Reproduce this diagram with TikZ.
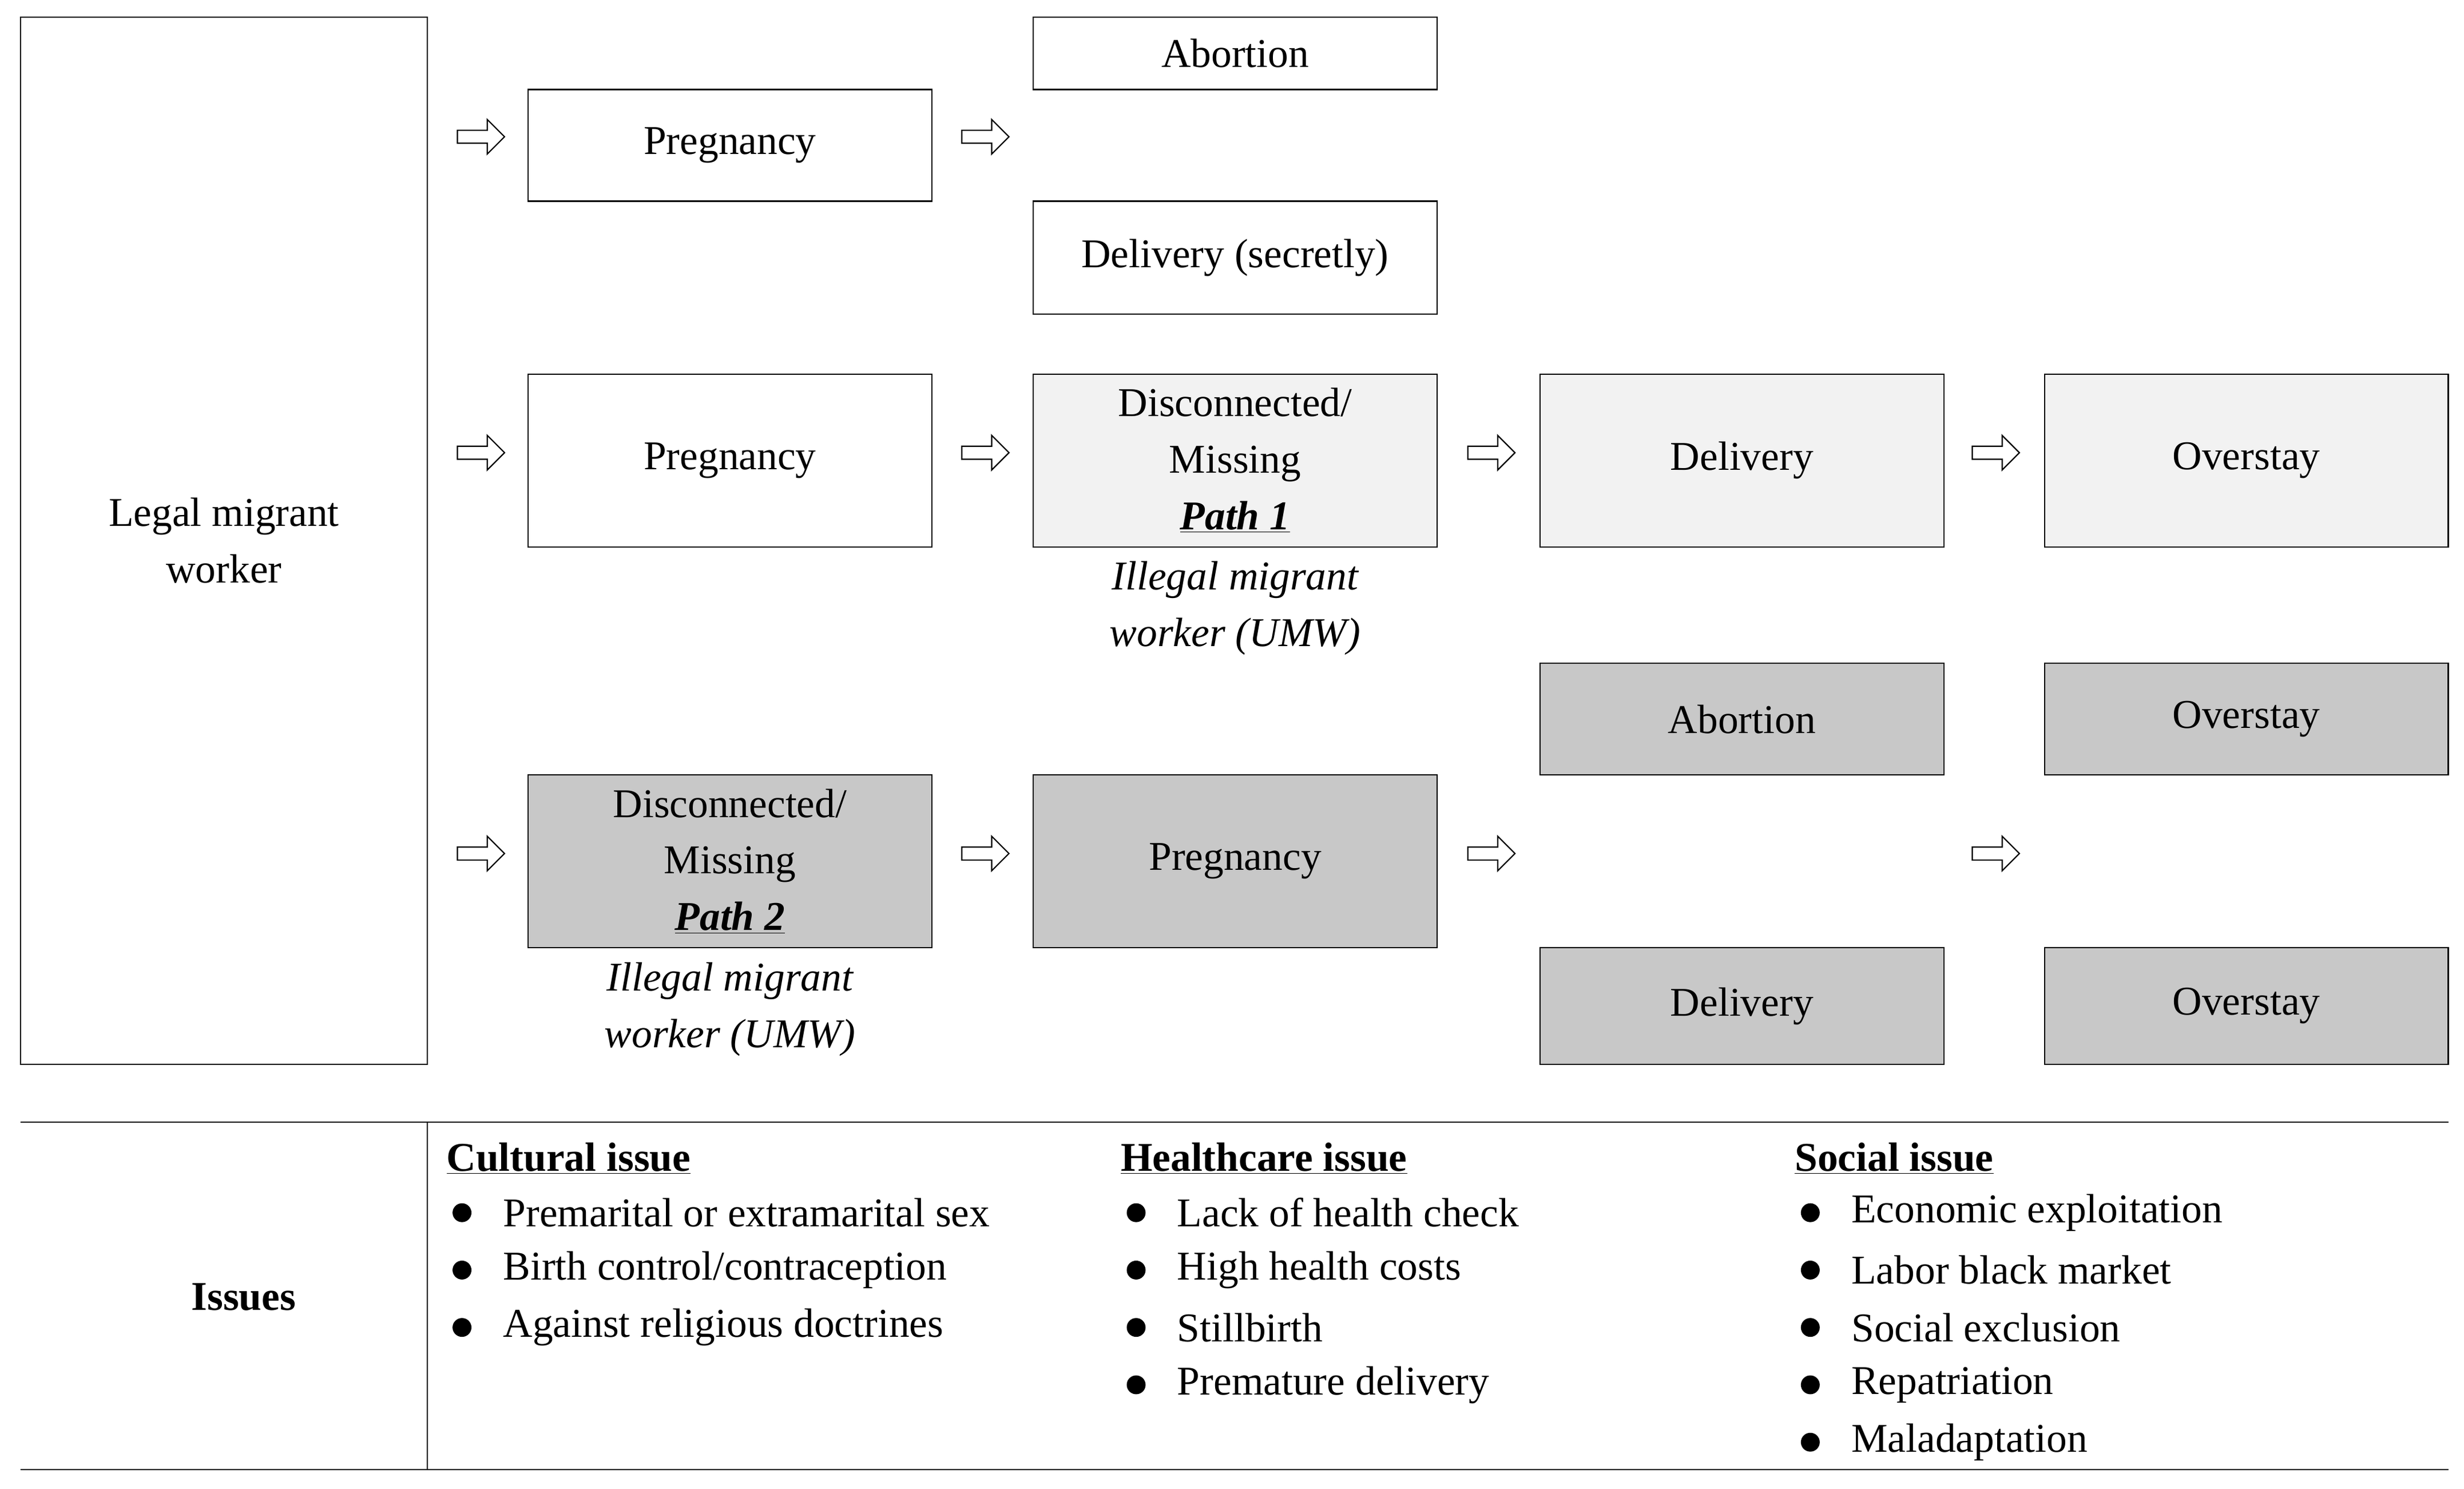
\documentclass[tikz,border=0pt]{standalone}
\usepackage{fontspec}
\setmainfont{Liberation Serif}
\usetikzlibrary{shapes.arrows}
\definecolor{lightbox}{HTML}{F2F2F2}
\definecolor{darkbox}{HTML}{C8C8C8}
\tikzset{
  box/.style={draw, thick, inner sep=0pt, align=center, minimum width=257pt},
  light/.style={box, fill=lightbox},
  dark/.style={box, fill=darkbox},
  flowarrow/.style={single arrow, draw, thick, fill=white, minimum height=30pt,
    minimum width=22pt, single arrow head extend=4pt, inner sep=2pt},
  note/.style={align=center, font=\fontsize{26}{36}\selectfont\itshape},
  bul/.style={circle, fill, inner sep=0pt, minimum size=12pt}
}
\newcommand{\pathname}[1]{\underline{\textbf{\textit{#1}}}}
\begin{document}
\begin{tikzpicture}[x=1pt, y=-1pt, font=\fontsize{26}{36}\selectfont]
	\useasboundingbox (0,0) rectangle (1568,947);
	% left box
	\node[box, minimum width=259pt, minimum height=666pt] (legal) at (142.5,344) {Legal migrant\\worker};
	% row 1
	\node[box, minimum height=71pt] (preg1) at (464.5,92.5) {Pregnancy};
	\node[box, minimum height=46pt] (abort1) at (786,34) {Abortion};
	\node[box, minimum height=72pt] (deliv1) at (786,164) {Delivery (secretly)};
	% row 2
	\node[box, minimum height=110pt] (preg2) at (464.5,293) {Pregnancy};
	\node[light, minimum height=110pt] (miss1) at (786,293) {Disconnected/\\Missing\\\pathname{Path 1}};
	\node[light, minimum height=110pt] (deliv2) at (1108.5,293) {Delivery};
	\node[light, minimum height=110pt] (over2) at (1429.5,293) {Overstay};
	\node[note] (umw1) at (786,387) {Illegal migrant\\worker (UMW)};
	% row 3
	\node[dark, minimum height=110pt] (miss2) at (464.5,548) {Disconnected/\\Missing\\\pathname{Path 2}};
	\node[dark, minimum height=110pt] (preg3) at (786,548) {Pregnancy};
	\node[dark, minimum height=71pt] (abort3) at (1108.5,457.5) {Abortion};
	\node[dark, minimum height=71pt] (over3a) at (1429.5,457.5) {Overstay};
	\node[dark, minimum height=74pt] (deliv3) at (1108.5,640) {Delivery};
	\node[dark, minimum height=74pt] (over3b) at (1429.5,640) {Overstay};
	\node[note] (umw2) at (464.5,642) {Illegal migrant\\worker (UMW)};
	% arrows
	\foreach \x/\y [count=\i] in {304/87,625/87,304/288,625/288,947/288,1268/288,304/543,625/543,947/543,1268/543}
		\node[flowarrow] (arr\i) at (\x,\y) {};
	% issues table
	\draw[thick] (13,714) -- (1558,714);
	\draw[thick] (13,935) -- (1558,935);
	\draw[thick] (272,714) -- (272,935);
	\node[font=\fontsize{26}{36}\selectfont\bfseries] (issues) at (155,825) {Issues};
	\foreach \x/\head/\items in {284/Cultural issue/{Premarital or extramarital sex,Birth control/contraception,Against religious doctrines},
		713/Healthcare issue/{Lack of health check,High health costs,Stillbirth,Premature delivery},
		1142/Social issue/{Economic exploitation,Labor black market,Social exclusion,Repatriation,Maladaptation}}{
		\node[anchor=west, inner sep=0pt, font=\fontsize{26}{36}\selectfont\bfseries] at (\x,737) {\underline{\head}};
		\foreach \entry [count=\j] in \items {
			\node[bul] at (\x+10,735+36.5*\j) {};
			\node[anchor=west, inner sep=0pt] at (\x+36,735+36.5*\j) {\entry};
		}
	}
\end{tikzpicture}
\end{document}
